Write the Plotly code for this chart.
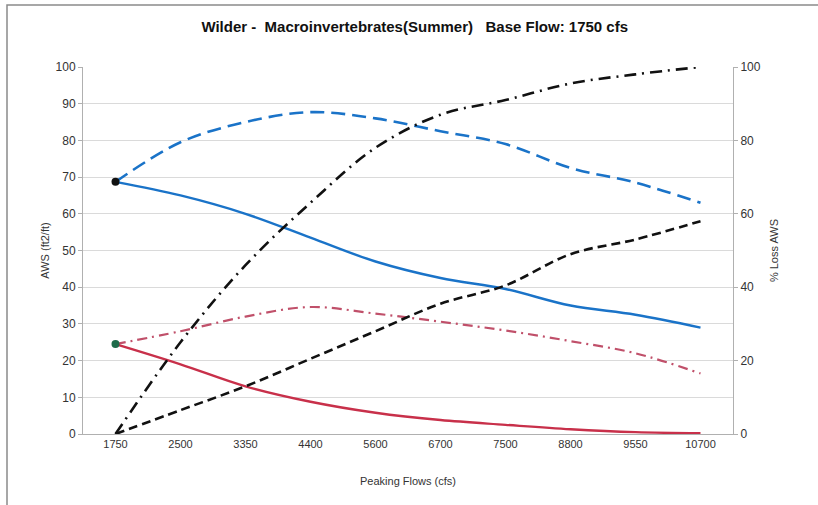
import plotly.graph_objects as go

flows = ["1750", "2500", "3350", "4400", "5600", "6700", "7500", "8800", "9550", "10700"]

aws_blue_solid = [68.7, 65.0, 60.0, 53.5, 47.0, 42.5, 39.5, 35.0, 32.5, 29.0]
aws_blue_dashed = [68.7, 79.5, 85.0, 87.7, 86.0, 82.5, 79.0, 72.5, 68.5, 63.0]
aws_red_solid = [24.5, 19.0, 13.0, 8.8, 5.8, 3.8, 2.5, 1.3, 0.5, 0.2]
aws_red_dashdot = [24.5, 28.0, 32.0, 34.6, 32.8, 30.6, 28.2, 25.3, 22.0, 16.5]
loss_black_dashdot = [0, 25, 46, 63, 78, 87, 91, 95.5, 98, 100]
loss_black_dashed = [0, 6.5, 13, 20.5, 28, 35.5, 40.5, 49, 53, 58]

base_flow = ["1750"]
base_blue = [68.7]
base_red = [24.5]

fig = go.Figure()

fig.add_trace(go.Scatter(x=flows, y=aws_blue_dashed, mode="lines", line=dict(color="#1a73c8", width=2.6, dash="14px,7px", shape="spline"), yaxis="y"))
fig.add_trace(go.Scatter(x=flows, y=aws_blue_solid, mode="lines", line=dict(color="#1a73c8", width=2.4, shape="spline"), yaxis="y"))
fig.add_trace(go.Scatter(x=flows, y=aws_red_dashdot, mode="lines", line=dict(color="#c0506a", width=2.2, dash="10px,5px,2px,5px", shape="spline"), yaxis="y"))
fig.add_trace(go.Scatter(x=flows, y=aws_red_solid, mode="lines", line=dict(color="#c8304a", width=2.4, shape="spline"), yaxis="y"))
fig.add_trace(go.Scatter(x=flows, y=loss_black_dashdot, mode="lines", line=dict(color="#111111", width=2.6, dash="12px,6px,2px,6px", shape="spline"), yaxis="y2"))
fig.add_trace(go.Scatter(x=flows, y=loss_black_dashed, mode="lines", line=dict(color="#111111", width=2.6, dash="9px,5px", shape="spline"), yaxis="y2"))
fig.add_trace(go.Scatter(x=base_flow, y=base_blue, mode="markers", marker=dict(color="#111111", size=8), yaxis="y"))
fig.add_trace(go.Scatter(x=base_flow, y=base_red, mode="markers", marker=dict(color="#1e6b4a", size=8), yaxis="y"))

font_family = "Liberation Sans, Arial, sans-serif"

fig.update_layout(
    width=818, height=505,
    margin=dict(l=83, r=85, t=67, b=71),
    paper_bgcolor="white", plot_bgcolor="white",
    showlegend=False,
    font=dict(family=font_family, size=11, color="#333333"),
    title=dict(text="<b>Wilder -  Macroinvertebrates(Summer)   Base Flow: 1750 cfs</b>",
               x=0.507, xanchor="center", y=0.948, yanchor="middle",
               font=dict(family=font_family, size=15, color="#111111")),
    xaxis=dict(type="category", range=[-0.5, 9.5], showgrid=False,
               showline=True, linecolor="#b0b0b0", linewidth=1,
               ticks="", tickfont=dict(size=11, color="#333333"),
               title=dict(text="Peaking Flows (cfs)", font=dict(size=11, color="#333333"), standoff=28)),
    yaxis=dict(range=[0, 100], dtick=10, showgrid=True, gridcolor="#dadada", gridwidth=1,
               showline=True, linecolor="#b0b0b0", linewidth=1,
               ticks="outside", ticklen=4, tickcolor="#b0b0b0",
               zeroline=False, tickfont=dict(size=12, color="#333333"),
               title=dict(text="AWS (ft2/ft)", font=dict(size=11, color="#333333"), standoff=3)),
    yaxis2=dict(range=[0, 100], dtick=20, overlaying="y", side="right", showgrid=False,
                showline=True, linecolor="#b0b0b0", linewidth=1,
                ticks="outside", ticklen=4, tickcolor="#b0b0b0",
                zeroline=False, tickfont=dict(size=12, color="#333333"),
                title=dict(text="% Loss AWS", font=dict(size=11, color="#333333"), standoff=10)),
    shapes=[dict(type="rect", xref="paper", yref="paper",
                 x0=(7 - 83) / 650, x1=(840 - 83) / 650,
                 y0=(434 - 520) / 367, y1=(434 - 5) / 367,
                 line=dict(color="#8a8a8a", width=1.5), layer="below")],
)

fig.write_html("out.html", config={"displayModeBar": False},
               post_script="document.body.style.margin='0px';")
